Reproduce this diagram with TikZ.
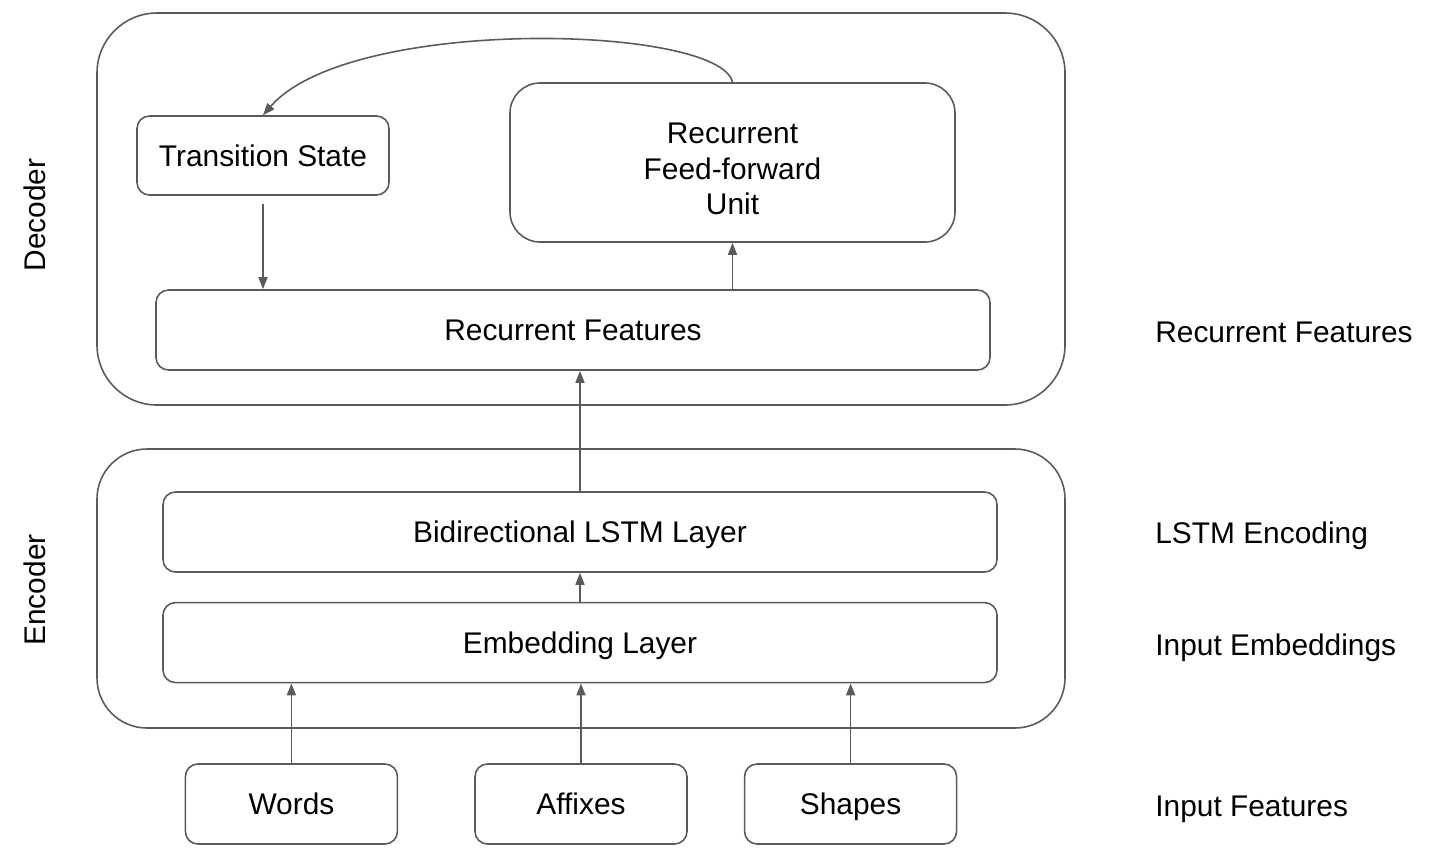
\documentclass[tikz,border=0pt]{standalone}
\usepackage{fontspec}
\setmainfont{Liberation Sans}
\usetikzlibrary{arrows.meta}
\usetikzlibrary{positioning}
\definecolor{linegray}{HTML}{5A5A5A}
\tikzstyle{outerblock} = [rectangle, draw=linegray, line width=0.9pt, inner sep=0pt]
\tikzstyle{layerblock} = [rectangle, rounded corners=0.25cm, minimum width=16.68cm, minimum height=1.6cm,
text centered, text height=12.2pt, text depth=0pt, draw=linegray, line width=0.9pt]
\tikzstyle{inputblock} = [rectangle, rounded corners=0.25cm, minimum width=4.24cm, minimum height=1.6cm,
text centered, text height=12.2pt, text depth=0pt, draw=linegray, line width=0.9pt]
\tikzstyle{arrow} = [line width=0.9pt, draw=linegray, ->, >={Triangle[length=0.24cm,width=0.18cm]}]
\tikzstyle{sidelabel} = [anchor=west, inner sep=0pt, text height=12.2pt, text depth=0pt]

\begin{document}
\begin{tikzpicture}[font=\fontsize{17}{20}\selectfont]
  \useasboundingbox (0,0) rectangle (28.7,-17.08);
  % containers
  \node (dec) [outerblock, rounded corners=1.2cm, minimum width=19.36cm, minimum height=7.84cm] at (11.62,-4.18) {};
  \node (enc) [outerblock, rounded corners=1.0cm, minimum width=19.36cm, minimum height=5.58cm] at (11.62,-11.77) {};
  \node (declabel) [rotate=90] at (0.7,-4.3) {Decoder};
  \node (enclabel) [rotate=90] at (0.7,-11.8) {Encoder};
  % decoder
  \node (ts) [inputblock, minimum width=5.04cm, minimum height=1.58cm] at (5.26,-3.11) {Transition State};
  \node (rfu) [inputblock, rounded corners=0.6cm, minimum width=8.9cm, minimum height=3.18cm] at (14.65,-3.25) {};
  \node (rfutext) [align=center] at ([yshift=-0.13cm]rfu.center) {Recurrent\\Feed-forward\\Unit};
  \node (rf) [layerblock] at (11.46,-6.6) {Recurrent Features};
  % encoder
  \node (lstm) [layerblock] at (11.6,-10.64) {Bidirectional LSTM Layer};
  \node (emb) [layerblock, below=0.58cm of lstm] {Embedding Layer};
  % inputs
  \node (affixes) [inputblock] at (11.62,-16.08) {Affixes};
  \node (words) [inputblock, left=1.52cm of affixes] {Words};
  \node (shapes) [inputblock, right=1.12cm of affixes] {Shapes};
  % right hand labels
  \node (lrf) [sidelabel] at (23.1,-6.64) {Recurrent Features};
  \node (llstm) [sidelabel] at (23.1,-10.66) {LSTM Encoding};
  \node (lemb) [sidelabel] at (23.1,-12.9) {Input Embeddings};
  \node (linp) [sidelabel] at (23.1,-16.12) {Input Features};
  % connectors
  \draw [arrow] (rfu.north) .. controls (14.4,-0.5) and (7.0,-0.3) .. (ts.north);
  \draw [arrow, shorten <=0.16cm] (ts.south) -- (ts.south |- rf.north);
  \draw [arrow] (rfu.south |- rf.north) -- (rfu.south);
  \draw [arrow] (lstm.north) -- (lstm.north |- rf.south);
  \draw [arrow] (emb.north) -- (lstm.south);
  \draw [arrow] (words.north) -- (words.north |- emb.south);
  \draw [arrow] (affixes.north) -- (affixes.north |- emb.south);
  \draw [arrow] (shapes.north) -- (shapes.north |- emb.south);
\end{tikzpicture}
\end{document}
